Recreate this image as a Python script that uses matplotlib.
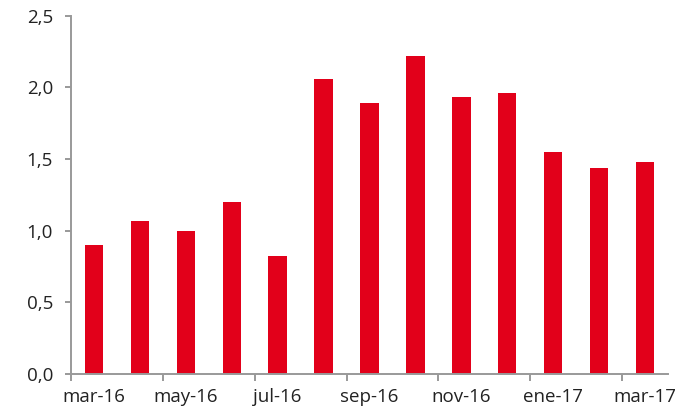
import matplotlib
matplotlib.use("Agg")
import matplotlib.pyplot as plt
from matplotlib.ticker import FixedLocator, FuncFormatter

months = ["mar-16", "abr-16", "may-16", "jun-16", "jul-16", "ago-16", "sep-16",
          "oct-16", "nov-16", "dic-16", "ene-17", "feb-17", "mar-17"]
values = [0.90, 1.07, 1.00, 1.20, 0.82, 2.06, 1.89, 2.22, 1.93, 1.96, 1.55, 1.44, 1.48]
y_ticks = [0.0, 0.5, 1.0, 1.5, 2.0, 2.5]

plt.rcParams['font.family'] = ['Open Sans', 'DejaVu Sans']

fig = plt.figure(figsize=(6.9, 4.12), dpi=100)
ax = fig.add_axes([0.1029, 0.0922, 0.8652, 0.8698])

x = list(range(len(values)))
ax.bar(x, values, width=0.40, color="#E2001A", zorder=2)

ax.set_xlim(-0.5, len(values) - 0.5)
ax.set_ylim(0, 2.5)

# y axis
ax.yaxis.set_major_locator(FixedLocator(y_ticks))
ax.yaxis.set_major_formatter(FuncFormatter(lambda v, p: f"{v:.1f}".replace(".", ",")))

# x axis: tick marks at boundaries, labels at every other bar
ax.xaxis.set_major_locator(FixedLocator([i - 0.5 for i in range(0, len(values), 2)]))
ax.xaxis.set_major_formatter(FuncFormatter(lambda v, p: ""))
ax.xaxis.set_minor_locator(FixedLocator([i for i in range(0, len(values), 2)]))
ax.xaxis.set_minor_formatter(FuncFormatter(lambda v, p: months[int(round(v))]))

spine_color = "#999999"
for s in ["top", "right"]:
    ax.spines[s].set_visible(False)
for s in ["left", "bottom"]:
    ax.spines[s].set_color(spine_color)
    ax.spines[s].set_linewidth(1.4)

ax.tick_params(axis="y", which="major", length=4.5, width=1.4, color=spine_color,
               labelsize=13.5, labelcolor="#222222", pad=8.5)
ax.tick_params(axis="x", which="major", length=5, width=1.4, color=spine_color)
ax.tick_params(axis="x", which="minor", length=0, labelsize=13.5,
               labelcolor="#222222", pad=10)

fig.savefig("out.png", dpi=100)
